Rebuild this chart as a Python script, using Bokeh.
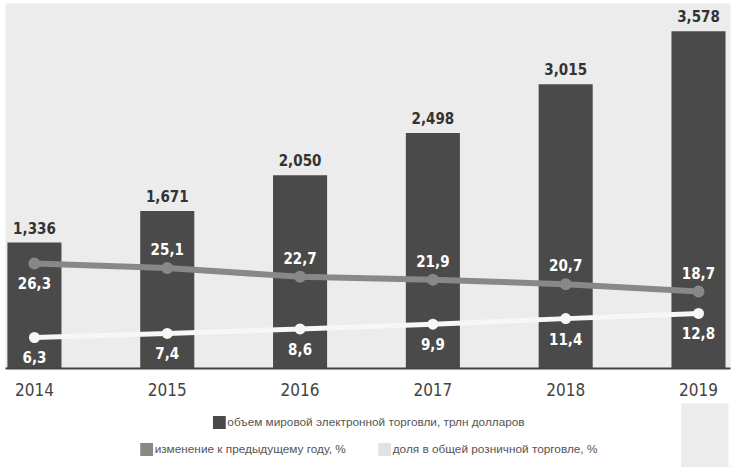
from bokeh.plotting import figure
from bokeh.layouts import column
from bokeh.models import ColumnDataSource, Range1d, FixedTicker, Legend, LegendItem, BoxAnnotation
from bokeh.core.properties import value
from bokeh.embed import file_html
from bokeh.resources import INLINE

years = [2014, 2015, 2016, 2017, 2018, 2019]
volume = [1.336, 1.671, 2.050, 2.498, 3.015, 3.578]
change = [26.3, 25.1, 22.7, 21.9, 20.7, 18.7]
share = [6.3, 7.4, 8.6, 9.9, 11.4, 12.8]
legend_labels = [
    "объем мировой электронной торговли, трлн долларов",
    "изменение к предыдущему году, %",
    "доля в общей розничной торговле, %",
]

COND = "DejaVu Sans Condensed"
BAR = "#4a4a4a"
GRAY = "#888888"
LIGHT = "#f7f7f7"

src = ColumnDataSource(dict(
    x=years,
    volume=volume,
    change=change,
    share=share,
    vol_lbl=[f"{v:.3f}".replace(".", ",") for v in volume],
    chg_lbl=[f"{v:.1f}".replace(".", ",") for v in change],
    shr_lbl=[f"{v:.1f}".replace(".", ",") for v in share],
    chg_off=[20 if i == 0 else -19 for i in range(len(years))],
))

p = figure(frame_width=725, frame_height=365, output_backend="svg", toolbar_location=None,
           x_range=Range1d(2013.782, 2019.241), y_range=Range1d(0, 3.871),
           y_axis_location=None,
           min_border_left=5, min_border_right=5, min_border_top=3, min_border_bottom=0)
p.extra_y_ranges = {"pct": Range1d(-2.08, 96.57)}
p.background_fill_color = "#ececec"
p.border_fill_color = "white"
p.outline_line_color = None
p.xgrid.visible = False
p.ygrid.visible = False

bars = p.vbar(x="x", top="volume", bottom=0, width=0.407, source=src,
              fill_color=BAR, line_color=None)

p.line(x="x", y="change", y_range_name="pct", source=src, line_width=6, line_color=GRAY)
p.scatter(x="x", y="change", y_range_name="pct", source=src, size=12,
          fill_color=GRAY, line_color=None)
p.line(x="x", y="share", y_range_name="pct", source=src, line_width=5, line_color=LIGHT)
p.scatter(x="x", y="share", y_range_name="pct", source=src, size=11,
          fill_color=LIGHT, line_color=None)

p.text(x="x", y="volume", text="vol_lbl", source=src, text_align="center",
       text_baseline="bottom", y_offset=-9, text_font=value(COND), text_font_style="bold",
       text_font_size="15px", text_color="#333333")
p.text(x="x", y="change", text="chg_lbl", source=src, y_range_name="pct",
       text_align="center", text_baseline="middle", y_offset="chg_off",
       text_font=value(COND), text_font_style="bold", text_font_size="15px",
       text_color="white")
p.text(x="x", y="share", text="shr_lbl", source=src, y_range_name="pct",
       text_align="center", text_baseline="middle", y_offset=20,
       text_font=value(COND), text_font_style="bold", text_font_size="15px",
       text_color="white")

xa = p.xaxis[0]
xa.ticker = FixedTicker(ticks=years)
xa.major_label_text_font = COND
xa.major_label_text_font_size = "17px"
xa.major_label_text_color = "#444444"
xa.axis_line_color = "#444444"
xa.axis_line_width = 2
xa.major_tick_line_color = None
xa.minor_tick_line_color = None
xa.major_label_standoff = 8

# legend strip below the chart
q = figure(width=735, height=69, output_backend="svg", toolbar_location=None,
           x_range=Range1d(0, 735), y_range=Range1d(0, 69),
           x_axis_location=None, y_axis_location=None,
           min_border_left=0, min_border_right=0, min_border_top=0, min_border_bottom=0)
q.background_fill_color = "white"
q.border_fill_color = "white"
q.outline_line_color = None
q.xgrid.visible = False
q.ygrid.visible = False
q.add_layout(BoxAnnotation(left=685, right=733, bottom=0, top=64,
                           fill_color="#ececec", fill_alpha=1, line_color=None))

# legend proxies (kept outside q's visible range)
proxy = dict(x=[years[0]], top=[volume[0]])
r_vol = q.vbar(x="x", top="top", width=1, source=ColumnDataSource(proxy),
               fill_color=BAR, line_color=None)
r_chg = q.vbar(x="x", top="top", width=1, source=ColumnDataSource(proxy),
               fill_color=GRAY, line_color=None)
r_shr = q.vbar(x="x", top="top", width=1, source=ColumnDataSource(proxy),
               fill_color="#e2e2e2", line_color=None)

common = dict(orientation="horizontal", padding=0,
              border_line_color=None, background_fill_alpha=0,
              label_text_font="Liberation Sans", label_text_font_size="11.8px",
              label_text_color="#555555", label_standoff=1,
              glyph_width=16, glyph_height=16, label_height=13)
leg1 = Legend(items=[LegendItem(label=legend_labels[0], renderers=[r_vol])],
              location="top_center", margin=16, **common)
leg2 = Legend(items=[LegendItem(label=legend_labels[1], renderers=[r_chg]),
                     LegendItem(label=legend_labels[2], renderers=[r_shr])],
              location="bottom_center", margin=10, spacing=30, **common)
q.add_layout(leg1)
q.add_layout(leg2)

layout = column(p, q, spacing=0)
open("out.html", "w").write(file_html(layout, INLINE))
